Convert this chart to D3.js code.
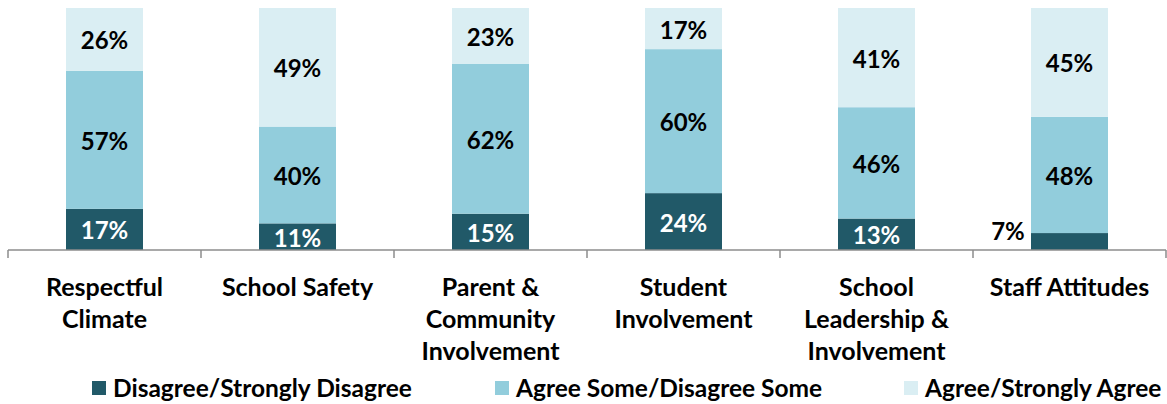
<!DOCTYPE html>
<html>
<head>
    <meta charset="utf-8">
    <title></title>
    <style>
        body { margin: 0; background: #fff; }
        text {
            font-family: Lato, "Open Sans", sans-serif;
            font-weight: bold;
        }
    </style>
</head>
<body>
    <script src="https://cdn.jsdelivr.net/npm/d3@7"></script>
    <script>
        var categories = ["Respectful Climate", "School Safety", "Parent & Community Involvement",
            "Student Involvement", "School Leadership & Involvement", "Staff Attitudes"];
        // label lines under each category
        var categoryLines = [
            ["Respectful", "Climate"],
            ["School Safety"],
            ["Parent &", "Community", "Involvement"],
            ["Student", "Involvement"],
            ["School", "Leadership &", "Involvement"],
            ["Staff Attitudes"]
        ];
        var seriesNames = ["Disagree/Strongly Disagree", "Agree Some/Disagree Some", "Agree/Strongly Agree"];
        var disagree = [17, 11, 15, 23.5, 13, 7];
        var agreeSome = [57, 40, 62, 59.5, 46, 48];
        var agree = [26, 49, 23, 17, 41, 45];
        var colors = ["#215968", "#92cddc", "#daeef3"];

        var width = 1167,
            height = 404;
        var margin = { left: 8, right: 1, top: 8, bottom: 154 };

        var rows = categories.map(function(c, i) {
            return { cat: c, s0: disagree[i], s1: agreeSome[i], s2: agree[i] };
        });
        var stack = d3.stack().keys(["s0", "s1", "s2"]);
        var series = stack(rows);

        var x = d3.scaleBand()
            .domain(categories)
            .range([margin.left, width - margin.right])
            .paddingInner(0)
            .paddingOuter(0);
        var y = d3.scaleLinear()
            .domain([0, 100])
            .range([height - margin.bottom, margin.top]);
        var barW = 77;

        var svg = d3.select("body").append("svg")
            .attr("width", width)
            .attr("height", height);

        var groups = svg.selectAll("g.series")
            .data(series)
            .enter().append("g")
            .attr("class", "series")
            .attr("fill", function(d, i) { return colors[i]; });

        groups.selectAll("rect")
            .data(function(d) { return d; })
            .enter().append("rect")
            .attr("x", function(d) { return x(d.data.cat) + x.bandwidth() / 2 - barW / 2; })
            .attr("y", function(d) { return y(d[1]); })
            .attr("width", barW)
            .attr("height", function(d) { return y(d[0]) - y(d[1]); });

        // value labels
        var fmt = d3.format(".0f");
        series.forEach(function(s, si) {
            svg.append("g").selectAll("text")
                .data(s)
                .enter().append("text")
                .attr("x", function(d) {
                    var cx = x(d.data.cat) + x.bandwidth() / 2;
                    return (d[1] - d[0] < 10) ? cx - barW / 2 - 23 : cx;
                })
                .attr("y", function(d) {
                    var v = d[1] - d[0];
                    if (v < 10) return y(d[1]) + 7;
                    return (y(d[0]) + y(d[1])) / 2 + 10;
                })
                .attr("text-anchor", "middle")
                .style("font-size", "24px")
                .attr("fill", function(d) {
                    return (si == 0 && d[1] - d[0] >= 10) ? "#fff" : "#000";
                })
                .text(function(d) { return fmt(d[1] - d[0]) + "%"; });
        });

        // category axis
        var axisY = y(0);
        var axis = svg.append("g").attr("class", "axis");
        axis.append("line")
            .attr("x1", margin.left).attr("x2", width - margin.right)
            .attr("y1", axisY).attr("y2", axisY)
            .attr("stroke", "#8c8c8c").attr("stroke-width", 1.5);
        var tickXs = categories.map(function(c) { return x(c); }).concat([x.range()[1]]);
        axis.selectAll("line.tick")
            .data(tickXs)
            .enter().append("line")
            .attr("class", "tick")
            .attr("x1", function(d) { return d; }).attr("x2", function(d) { return d; })
            .attr("y1", axisY).attr("y2", axisY + 8)
            .attr("stroke", "#8c8c8c").attr("stroke-width", 1.5);

        var labels = axis.selectAll("text.cat")
            .data(categories)
            .enter().append("text")
            .attr("class", "cat")
            .attr("text-anchor", "middle")
            .attr("x", function(d) { return x(d) + x.bandwidth() / 2; })
            .attr("y", axisY + 46)
            .style("font-size", "25px")
            .attr("fill", "#000");
        labels.each(function(d, i) {
            var t = d3.select(this);
            categoryLines[i].forEach(function(line, li) {
                t.append("tspan")
                    .attr("x", x(d) + x.bandwidth() / 2)
                    .attr("dy", li == 0 ? 0 : 32)
                    .text(line);
            });
        });

        // legend
        var legendX = [92, 495, 904];
        var legend = svg.append("g").attr("class", "legend");
        seriesNames.forEach(function(name, i) {
            legend.append("rect")
                .attr("x", legendX[i]).attr("y", 381)
                .attr("width", 14).attr("height", 14)
                .attr("fill", colors[i]);
            legend.append("text")
                .attr("x", legendX[i] + 21).attr("y", 397)
                .style("font-size", "24.5px")
                .attr("fill", "#000")
                .text(name);
        });
    </script>
</body>
</html>
